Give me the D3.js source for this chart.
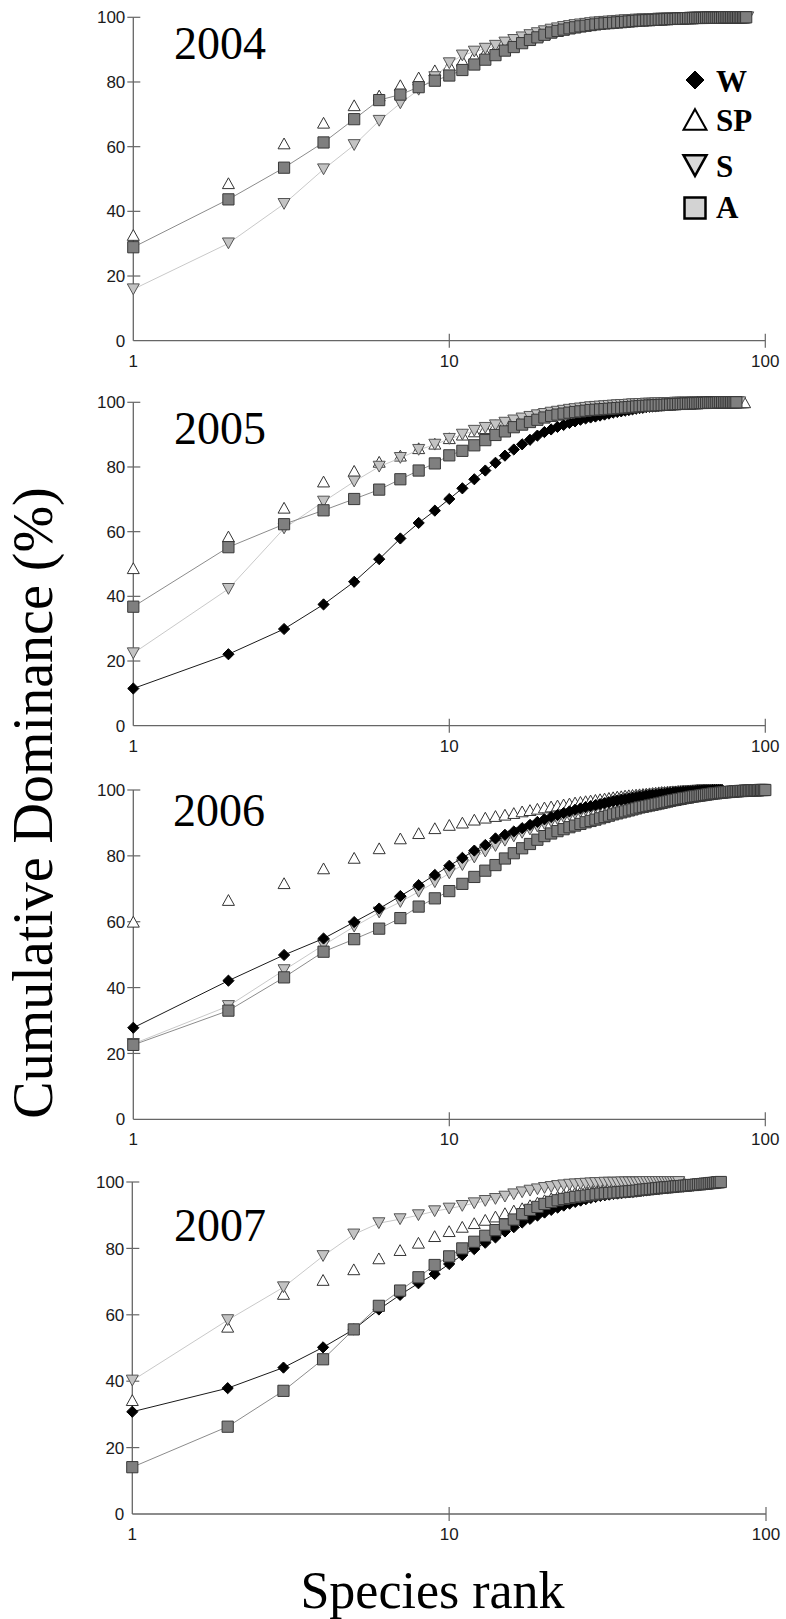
<!DOCTYPE html>
<html>
<head>
<meta charset="utf-8">
<script src="https://cdn.jsdelivr.net/npm/d3@7"></script>
<style>
  body { margin: 0; background: #fff; }
  svg { display: block; }
</style>
</head>
<body>
<svg id="chart" width="786" height="1619"></svg>
<script>
// Cumulative dominance (%) by species rank, four sampling years.
// Series: W, SP, S, A. Each array holds values for ranks 1..n.

const years = ["2004", "2005", "2006", "2007"];
const yTickValues = [0, 20, 40, 60, 80, 100];
const xTickValues = [1, 10, 100];
const legendKeys = ["W", "SP", "S", "A"];

// 2004 (no W sample)
const sp2004 = [32.7,48.7,61.0,67.4,72.8,75.8,79.0,81.4,83.6,85.2,
  86.6,88.0,89.2,90.2,91.2,92.0,92.8,93.5,94.2,94.8,
  95.3,95.8,96.2,96.6,96.9,97.2,97.5,97.7,97.9,98.1,
  98.3,98.4,98.5,98.6,98.7,98.8,98.9,99.0,99.1,99.2,
  99.2,99.3,99.3,99.4,99.4,99.5,99.5,99.6,99.6,99.6,
  99.7,99.7,99.7,99.8,99.8,99.8,99.8,99.9,99.9,99.9,
  99.9,99.9,99.9,99.9,100,100,100,100,100,100,
  100,100,100,100,100,100,100,100,100,100,
  100,100,100,100,100,100];
const s2004 = [15.9,30.1,42.3,53.0,60.5,68.0,73.4,77.6,81.5,85.8,
  88.2,89.4,90.3,91.2,92.2,93.0,93.8,94.5,95.1,95.7,
  96.2,96.6,97.0,97.3,97.6,97.8,98.0,98.2,98.4,98.5,
  98.6,98.7,98.8,98.9,99.0,99.1,99.1,99.2,99.3,99.3,
  99.4,99.4,99.5,99.5,99.5,99.6,99.6,99.6,99.7,99.7,
  99.7,99.7,99.8,99.8,99.8,99.8,99.8,99.9,99.9,99.9,
  99.9,99.9,99.9,99.9,99.9,100,100,100,100,100,
  100,100,100,100,100,100,100,100,100,100,
  100,100,100,100,100,100,100,100];
const a2004 = [28.9,43.7,53.5,61.3,68.5,74.4,76.1,78.4,80.4,82.0,
  83.7,85.4,86.9,88.3,89.7,90.8,92.0,93.0,93.8,94.6,
  95.3,95.8,96.2,96.6,96.9,97.2,97.4,97.6,97.8,98.0,
  98.1,98.2,98.3,98.4,98.5,98.6,98.7,98.8,98.9,99.0,
  99.0,99.1,99.1,99.2,99.2,99.3,99.3,99.4,99.4,99.5,
  99.5,99.5,99.6,99.6,99.6,99.7,99.7,99.7,99.7,99.8,
  99.8,99.8,99.8,99.8,99.9,99.9,99.9,99.9,99.9,99.9,
  99.9,99.9,99.9,100,100,100,100,100,100,100,
  100,100,100,100,100,100,100];

// 2005
const w2005 = [11.5,22.1,29.9,37.5,44.5,51.5,57.9,62.7,66.5,70.1,
  73.4,76.2,78.9,81.3,83.5,85.4,87.0,88.4,89.7,90.8,
  91.6,92.4,93.0,93.6,94.1,94.6,95.0,95.3,95.6,95.9,
  96.2,96.5,96.8,97.0,97.2,97.4,97.6,97.8,98.0,98.2,
  98.3,98.5,98.6,98.7,98.8,98.9,99.0,99.1,99.2,99.3,
  99.4,99.4,99.5,99.6,99.6,99.7,99.7,99.8,99.8,99.8,
  99.9,99.9,99.9,99.9,100,100,100,100];
const sp2005 = [48.7,58.5,67.4,75.5,78.8,81.6,83.5,85.8,87.2,88.9,
  90.0,91.0,92.0,92.9,93.7,94.4,95.0,95.6,96.1,96.5,
  96.9,97.2,97.5,97.8,98.0,98.2,98.4,98.6,98.7,98.8,
  98.9,99.0,99.1,99.2,99.3,99.3,99.4,99.4,99.5,99.5,
  99.6,99.6,99.6,99.7,99.7,99.7,99.7,99.8,99.8,99.8,
  99.8,99.8,99.9,99.9,99.9,99.9,99.9,99.9,99.9,99.9,
  100,100,100,100,100,100,100,100,100,100,
  100,100,100,100,100,100,100,100,100,100,
  100,100,100,100,100,100];
const s2005 = [22.4,42.3,61.0,69.3,75.5,80.1,82.8,85.3,86.9,88.7,
  90.0,91.2,92.1,92.9,93.7,94.4,95.0,95.5,96.0,96.4,
  96.8,97.1,97.4,97.7,97.9,98.1,98.3,98.5,98.6,98.7,
  98.8,98.9,99.0,99.1,99.2,99.2,99.3,99.4,99.4,99.5,
  99.5,99.6,99.6,99.6,99.7,99.7,99.7,99.8,99.8,99.8,
  99.8,99.9,99.9,99.9,99.9,99.9,99.9,99.9,100,100,
  100,100,100,100,100,100,100,100,100,100,
  100,100,100,100,100,100,100,100,100,100,
  100,100,100];
const a2005 = [36.8,55.2,62.3,66.6,70.1,73.0,76.2,78.9,81.1,83.6,
  85.0,86.7,88.3,89.9,91.0,92.3,93.1,93.9,94.6,95.3,
  95.8,96.2,96.5,96.8,97.0,97.2,97.4,97.6,97.7,97.8,
  97.9,98.0,98.1,98.2,98.3,98.4,98.5,98.6,98.7,98.8,
  98.9,98.9,99.0,99.0,99.1,99.1,99.2,99.2,99.3,99.3,
  99.4,99.4,99.5,99.5,99.5,99.6,99.6,99.6,99.7,99.7,
  99.7,99.8,99.8,99.8,99.8,99.9,99.9,99.9,99.9,99.9,
  100,100,100,100,100,100,100,100,100,100,
  100];

// 2006
const w2006 = [27.8,42.1,49.9,54.9,59.9,64.0,67.8,71.1,74.2,77.0,
  79.4,81.6,83.3,85.3,86.4,87.4,88.4,89.4,90.3,91.1,
  91.8,92.4,93.0,93.5,94.0,94.4,94.8,95.1,95.4,95.7,
  96.0,96.3,96.6,96.8,97.0,97.2,97.4,97.6,97.8,98.0,
  98.1,98.3,98.4,98.5,98.6,98.7,98.8,98.9,99.0,99.1,
  99.2,99.3,99.3,99.4,99.5,99.5,99.6,99.6,99.7,99.7,
  99.8,99.8,99.8,99.9,99.9,99.9,99.9,100,100,100,
  100,100,100];
const sp2006 = [60.0,66.6,71.7,76.2,79.4,82.3,85.3,86.9,88.4,89.4,
  90.1,91.0,91.6,92.1,92.5,93.0,93.5,93.9,94.3,94.7,
  95.0,95.3,95.6,95.9,96.2,96.4,96.6,96.8,97.0,97.2,
  97.4,97.6,97.8,98.0,98.1,98.3,98.4,98.5,98.6,98.7,
  98.8,98.9,99.0,99.1,99.2,99.3,99.4,99.4,99.5,99.5,
  99.6,99.6,99.7,99.7,99.8,99.8,99.8,99.9,99.9,99.9,
  100,100,100,100,100,100];
const s2006 = [22.9,34.4,45.3,52.9,58.5,62.8,66.0,69.1,72.0,74.7,
  77.2,79.5,81.3,83.0,84.6,85.9,87.0,88.0,88.9,89.7,
  90.4,91.1,91.7,92.3,92.8,93.3,93.8,94.2,94.6,95.0,
  95.4,95.8,96.1,96.4,96.7,97.0,97.2,97.4,97.6,97.8,
  98.0,98.2,98.3,98.5,98.6,98.7,98.8,98.9,99.0,99.1,
  99.2,99.3,99.3,99.4,99.5,99.5,99.6,99.6,99.7,99.7,
  99.8,99.8,99.9,99.9,99.9,99.9,100,100,100,100];
const a2006 = [22.6,33.0,43.1,50.9,54.7,57.9,61.1,64.6,67.1,69.3,
  71.5,73.6,75.5,77.2,79.2,80.8,82.3,83.6,84.9,86.0,
  86.8,87.5,88.1,88.7,89.2,89.7,90.2,90.6,91.0,91.4,
  91.8,92.2,92.6,92.9,93.2,93.5,93.8,94.1,94.4,94.7,
  94.9,95.1,95.3,95.5,95.7,95.9,96.1,96.3,96.5,96.7,
  96.9,97.0,97.2,97.3,97.5,97.6,97.7,97.9,98.0,98.1,
  98.2,98.3,98.4,98.5,98.6,98.7,98.8,98.9,99.0,99.0,
  99.1,99.2,99.2,99.3,99.3,99.4,99.4,99.5,99.5,99.6,
  99.6,99.6,99.7,99.7,99.7,99.8,99.8,99.8,99.8,99.9,
  99.9,99.9,99.9,99.9,99.9,100,100,100,100,100];

// 2007
const w2007 = [30.8,37.9,44.1,50.2,55.6,61.6,66.0,69.5,72.3,75.3,
  78.0,79.8,81.7,83.3,85.1,86.4,87.8,88.9,89.9,90.8,
  91.6,92.3,92.9,93.5,94.0,94.4,94.8,95.2,95.5,95.8,
  96.0,96.2,96.4,96.5,96.7,96.8,96.9,97.0,97.1,97.3,
  97.4,97.5,97.6,97.7,97.8,97.9,98.0,98.1,98.2,98.3,
  98.4,98.5,98.6,98.7,98.7,98.8,98.9,99.0,99.0,99.1,
  99.2,99.3,99.4,99.5,99.6,99.7,99.8,100];
const sp2007 = [34.3,56.4,66.3,70.5,73.7,77.0,79.5,81.7,83.7,85.2,
  86.5,87.6,88.6,89.6,90.6,91.4,92.1,93.0,93.8,94.5,
  95.1,95.6,96.1,96.5,96.9,97.2,97.5,97.8,98.0,98.2,
  98.4,98.6,98.7,98.9,99.0,99.1,99.2,99.3,99.4,99.5,
  99.5,99.6,99.6,99.7,99.7,99.8,99.8,99.8,99.9,99.9,
  99.9,100,100,100,100];
const s2007 = [40.2,58.4,68.3,77.7,84.2,87.6,88.8,90.0,91.2,92.0,
  92.8,93.6,94.3,94.9,95.6,96.3,96.9,97.4,97.8,98.2,
  98.5,98.8,99.0,99.2,99.3,99.4,99.5,99.6,99.7,99.7,
  99.8,99.8,99.8,99.8,99.9,99.9,99.9,99.9,99.9,99.9,
  100,100,100,100,100,100,100,100,100,100,
  100,100,100];
const a2007 = [14.1,26.3,37.1,46.6,55.6,62.7,67.3,71.3,75.0,77.6,
  80.0,82.0,83.8,85.5,87.2,88.7,90.3,91.6,92.5,93.4,
  94.0,94.5,94.9,95.2,95.5,95.7,95.9,96.1,96.3,96.5,
  96.6,96.7,96.8,96.9,97.0,97.1,97.2,97.3,97.4,97.6,
  97.7,97.8,97.9,98.0,98.1,98.2,98.3,98.4,98.4,98.5,
  98.6,98.7,98.7,98.8,98.9,98.9,99.0,99.1,99.1,99.2,
  99.3,99.3,99.4,99.5,99.5,99.6,99.7,99.7,99.8,99.9,
  99.9,100];

// Series per year; drawOrder decides which sit on top.
const seriesByYear = {
  "2004": { SP: sp2004, S: s2004, A: a2004 },
  "2005": { SP: sp2005, S: s2005, W: w2005, A: a2005 },
  "2006": { SP: sp2006, S: s2006, W: w2006, A: a2006 },
  "2007": { SP: sp2007, S: s2007, W: w2007, A: a2007 }
};
const drawOrder = ["SP", "S", "W", "A"];

// ---- layout and styling ----
const panelBoxes = [
  { left: 133.3, right: 765.3, bottom: 340.7, top: 17.3, labelX: 174, labelY: 59 },
  { left: 133.3, right: 765.3, bottom: 725.7, top: 402.3, labelX: 174, labelY: 444 },
  { left: 133.3, right: 765.3, bottom: 1119.3, top: 790, labelX: 173, labelY: 826 },
  { left: 132.3, right: 766, bottom: 1514, top: 1182, labelX: 174, labelY: 1241 }
];

const style = {
  W:  { shape: "diamond",  fill: "#000000", stroke: "#000000", line: "#1a1a1a" },
  SP: { shape: "triUp",    fill: "#ffffff", stroke: "#333333", line: null },
  S:  { shape: "triDown",  fill: "#c3c3c3", stroke: "#555555", line: "#c9c9c9" },
  A:  { shape: "square",   fill: "#7f7f7f", stroke: "#383838", line: "#8c8c8c" }
};

function shapePath(shape, s) {
  // s = half-width of the marker
  const p = d3.path();
  if (shape === "diamond") {
    p.moveTo(0, -s); p.lineTo(s, 0); p.lineTo(0, s); p.lineTo(-s, 0); p.closePath();
  } else if (shape === "triUp") {
    const h = s * 0.9;
    p.moveTo(0, -h); p.lineTo(s, h); p.lineTo(-s, h); p.closePath();
  } else if (shape === "triDown") {
    const h = s * 0.9;
    p.moveTo(-s, -h); p.lineTo(s, -h); p.lineTo(0, h); p.closePath();
  } else {
    p.rect(-s, -s, 2 * s, 2 * s);
  }
  return p.toString();
}
const markerHalf = { diamond: 5.6, triUp: 6.0, triDown: 6.0, square: 5.6 };

const svg = d3.select("#chart");
const axisColor = "#666666";
const tickFont = "'Liberation Sans', Arial, sans-serif";
const serifFont = "'Liberation Serif', 'Times New Roman', serif";

years.forEach((year, i) => {
  const box = panelBoxes[i];
  const x = d3.scaleLog().domain([1, 100]).range([box.left, box.right]);
  const y = d3.scaleLinear().domain([0, 100]).range([box.bottom, box.top]);
  const g = svg.append("g").attr("class", "panel-" + year);

  // axes
  g.append("line")
    .attr("x1", x(1)).attr("x2", x(1))
    .attr("y1", y(0)).attr("y2", y(100))
    .attr("stroke", axisColor).attr("stroke-width", 1.3);
  g.append("line")
    .attr("x1", x(1)).attr("x2", x(100))
    .attr("y1", y(0)).attr("y2", y(0))
    .attr("stroke", axisColor).attr("stroke-width", 1.3);

  // y ticks (crossing the axis) and labels
  g.selectAll(".ytick").data(yTickValues.filter(v => v > 0)).join("line")
    .attr("x1", x(1) - 6).attr("x2", x(1) + 7)
    .attr("y1", d => y(d)).attr("y2", d => y(d))
    .attr("stroke", axisColor).attr("stroke-width", 1.2);
  g.selectAll(".ylab").data(yTickValues).join("text")
    .attr("x", x(1) - 8).attr("y", d => y(d)).attr("dy", "0.36em")
    .attr("text-anchor", "end")
    .attr("font-family", tickFont).attr("font-size", 17).attr("fill", "#1b1b1b")
    .text(d => d);

  // x ticks and labels
  g.selectAll(".xtick").data(xTickValues.filter(v => v > 1)).join("line")
    .attr("x1", d => x(d)).attr("x2", d => x(d))
    .attr("y1", y(0) - 7).attr("y2", y(0) + 7)
    .attr("stroke", axisColor).attr("stroke-width", 1.2);
  g.selectAll(".xlab").data(xTickValues).join("text")
    .attr("x", d => x(d)).attr("y", y(0) + 26)
    .attr("text-anchor", "middle")
    .attr("font-family", tickFont).attr("font-size", 17).attr("fill", "#1b1b1b")
    .text(d => d);

  // year label
  g.append("text")
    .attr("x", box.labelX).attr("y", box.labelY)
    .attr("font-family", serifFont).attr("font-size", 46).attr("fill", "#000")
    .text(year);

  // series: connecting line under markers
  const series = seriesByYear[year];
  drawOrder.forEach(key => {
    const vals = series[key];
    if (!vals) return;
    const st = style[key];
    const pts = vals.map((v, r) => [x(r + 1), y(v)]);
    if (st.line) {
      g.append("path")
        .attr("d", d3.line()(pts))
        .attr("fill", "none").attr("stroke", st.line).attr("stroke-width", 1);
    }
    g.append("g").selectAll("path").data(pts).join("path")
      .attr("transform", d => `translate(${d[0]},${d[1]})`)
      .attr("d", shapePath(st.shape, markerHalf[st.shape]))
      .attr("fill", st.fill).attr("stroke", st.stroke).attr("stroke-width", 1);
  });
});

// legend (top panel)
const legendStyle = {
  W:  { shape: "diamond", fill: "#000", stroke: "#000", sw: 1, half: 9 },
  SP: { shape: "triUp",   fill: "#fff", stroke: "#000", sw: 2, half: 11.5 },
  S:  { shape: "triDown", fill: "#d9d9d9", stroke: "#000", sw: 2.5, half: 11.5 },
  A:  { shape: "square",  fill: "#d3d3d3", stroke: "#000", sw: 2.5, half: 10.5 }
};
const legendRows = [80, 119.5, 165.5, 208];
const legendBase = [92, 131, 177, 218];
const lg = svg.append("g").attr("class", "legend");
legendKeys.forEach((key, i) => {
  const ls = legendStyle[key];
  lg.append("path")
    .attr("transform", `translate(695,${legendRows[i]})`)
    .attr("d", shapePath(ls.shape, ls.half))
    .attr("fill", ls.fill).attr("stroke", ls.stroke).attr("stroke-width", ls.sw);
  lg.append("text")
    .attr("x", 716).attr("y", legendBase[i])
    .attr("font-family", serifFont).attr("font-weight", "bold").attr("font-size", 31)
    .attr("fill", "#000")
    .text(key);
});

// axis titles
svg.append("text")
  .attr("transform", "translate(52,803) rotate(-90)")
  .attr("text-anchor", "middle")
  .attr("font-family", serifFont).attr("font-size", 56).attr("fill", "#000")
  .text("Cumulative Dominance (%)");
svg.append("text")
  .attr("x", 432.5).attr("y", 1608)
  .attr("text-anchor", "middle")
  .attr("font-family", serifFont).attr("font-size", 52).attr("fill", "#000")
  .text("Species rank");
</script>
</body>
</html>
